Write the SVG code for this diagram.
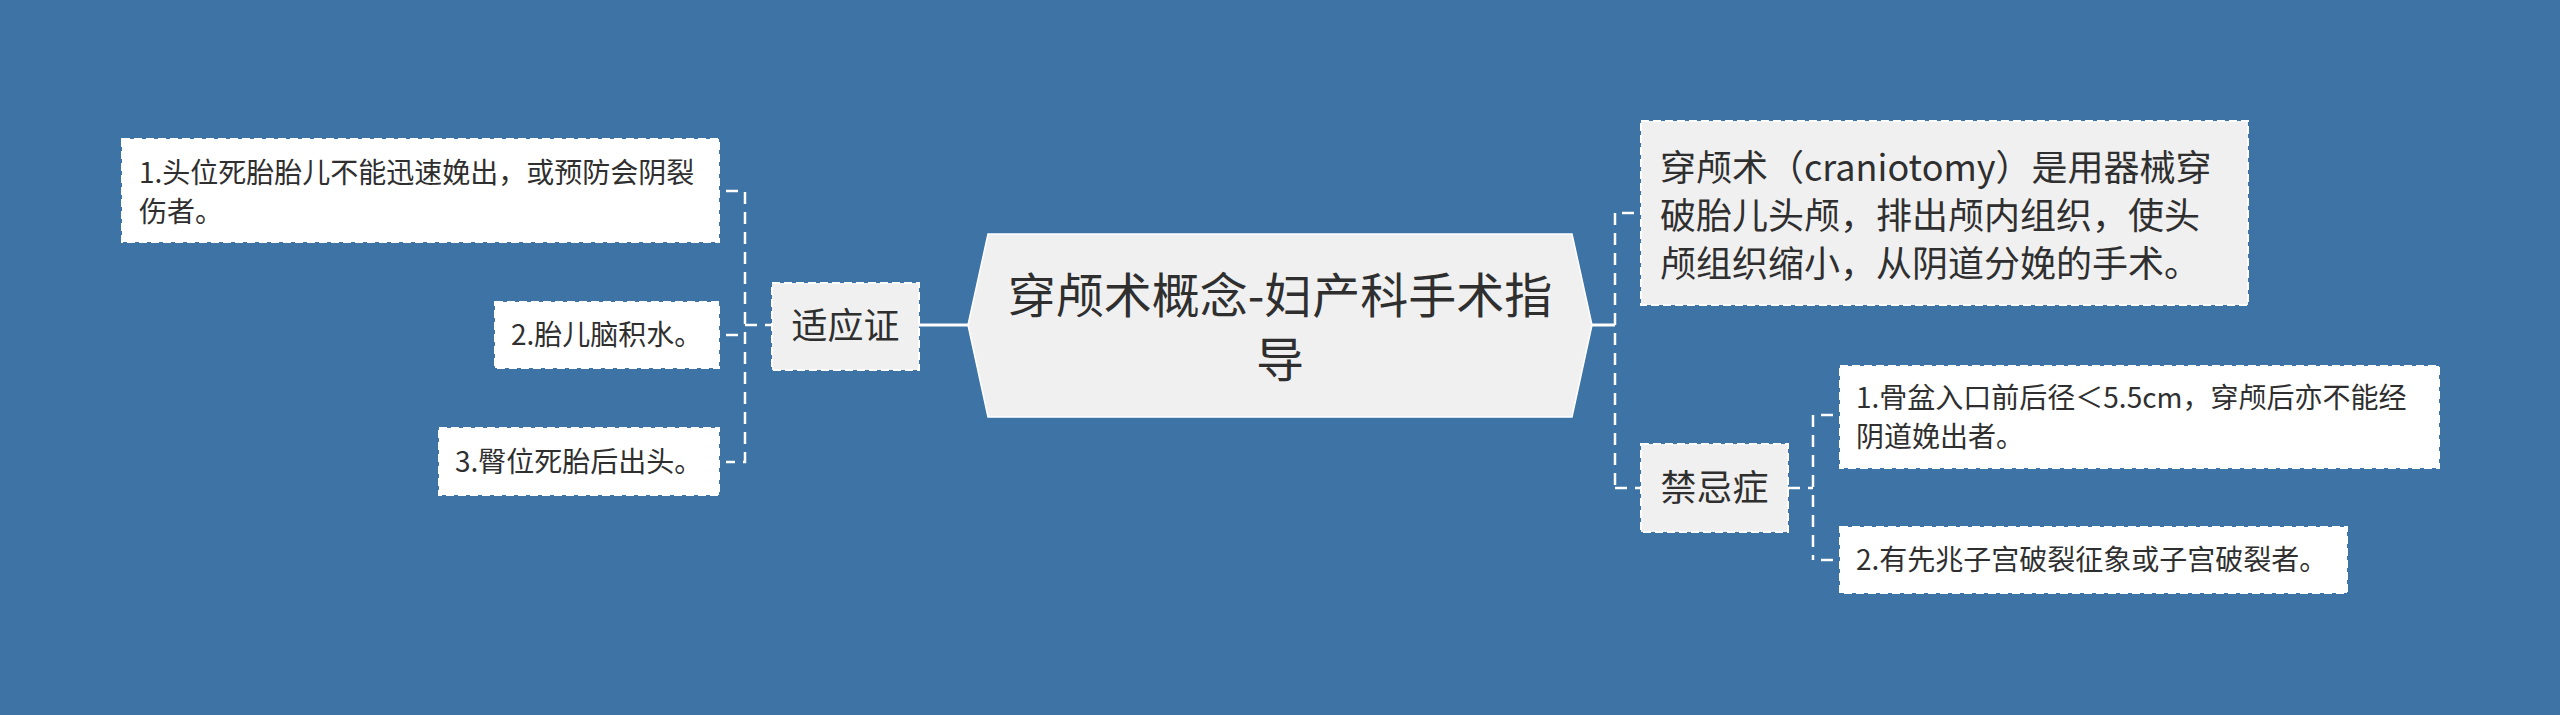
<svg xmlns="http://www.w3.org/2000/svg" width="2560" height="715" viewBox="0 0 2560 715">
<style>
.bg{fill:#3e73a5}
.leaf{fill:#ffffff;stroke:#ffffff;stroke-width:2;stroke-dasharray:8 4}
.sub{fill:#f0f0f0;stroke:#ffffff;stroke-width:2;stroke-dasharray:8 4}
.root{fill:#f0f0f0;stroke:#ffffff;stroke-width:1.5}
text{font-family:"Noto Sans CJK SC","Microsoft YaHei",sans-serif;fill:#2f2f2f}
.t28{font-size:28px}
.t36{font-size:36px}
.t48{font-size:48px}
.dash{fill:none;stroke:#ffffff;stroke-width:2.5;stroke-dasharray:12 8}
.solid{fill:none;stroke:#ffffff;stroke-width:3}
</style>
<rect class="bg" x="0" y="0" width="2560" height="715"/>
<g id="connectors">
<path class="solid" d="M968 325 H919"/>
<path class="solid" d="M1592 325 H1615"/>
<path class="dash" d="M745 325 H771"/>
<path class="dash" d="M726 191 H745 V462 H726"/>
<path class="dash" d="M726 335 H745"/>
<path class="dash" d="M1615 213 V488"/>
<path class="dash" d="M1622 213 H1640"/>
<path class="dash" d="M1615 488 H1641"/>
<path class="dash" d="M1788 488 H1813"/>
<path class="dash" d="M1813 415 V560"/>
<path class="dash" d="M1821 415 H1840"/>
<path class="dash" d="M1821 560 H1840"/>
</g>
<g id="root">
<polygon class="root" points="968,325 988,234 1572,234 1592,325 1572,417 988,417"/>
<text class="t48" x="1280" y="313" text-anchor="middle">穿颅术概念-妇产科手术指</text>
<text class="t48" x="1280" y="377" text-anchor="middle">导</text>
</g>
<g id="indications">
<rect class="sub" x="772" y="283" width="147" height="87"/>
<text class="t36" x="845.5" y="339" text-anchor="middle">适应证</text>
</g>
<g id="ind1">
<rect class="leaf" x="122" y="139" width="597" height="103"/>
<text class="t28" x="139" y="183">1.头位死胎胎儿不能迅速娩出，或预防会阴裂</text>
<text class="t28" x="139" y="222">伤者。</text>
</g>
<g id="ind2">
<rect class="leaf" x="495" y="302" width="224" height="66"/>
<text class="t28" x="511" y="345">2.胎儿脑积水。</text>
</g>
<g id="ind3">
<rect class="leaf" x="439" y="428" width="280" height="67"/>
<text class="t28" x="455" y="472">3.臀位死胎后出头。</text>
</g>
<g id="definition">
<rect class="sub" x="1641" y="121" width="607" height="184"/>
<text class="t36" x="1660" y="181">穿颅术（craniotomy）是用器械穿</text>
<text class="t36" x="1660" y="229">破胎儿头颅，排出颅内组织，使头</text>
<text class="t36" x="1660" y="277">颅组织缩小，从阴道分娩的手术。</text>
</g>
<g id="contraindications">
<rect class="sub" x="1641" y="444" width="147" height="88"/>
<text class="t36" x="1714.5" y="501" text-anchor="middle">禁忌症</text>
</g>
<g id="con1">
<rect class="leaf" x="1840" y="366" width="599" height="102"/>
<text class="t28" x="1856" y="408">1.骨盆入口前后径＜5.5cm，穿颅后亦不能经</text>
<text class="t28" x="1856" y="447">阴道娩出者。</text>
</g>
<g id="con2">
<rect class="leaf" x="1840" y="527" width="507" height="66"/>
<text class="t28" x="1856" y="570">2.有先兆子宫破裂征象或子宫破裂者。</text>
</g>
</svg>
